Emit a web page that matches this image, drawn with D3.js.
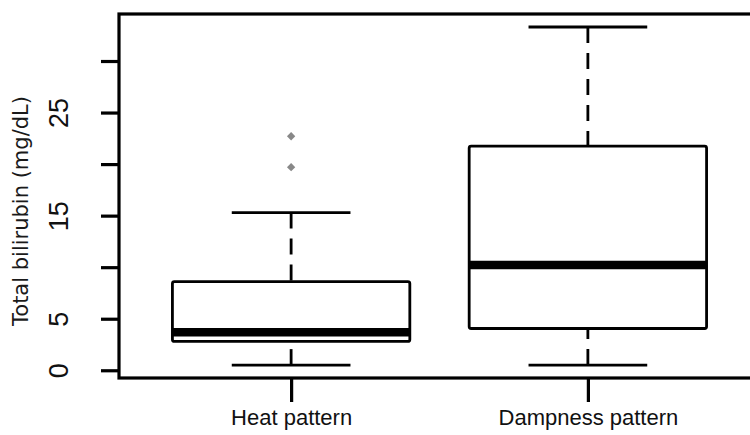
<!DOCTYPE html>
<html>
<head>
<meta charset="utf-8">
<script src="https://cdn.jsdelivr.net/npm/d3@7"></script>
<style>
  body { margin: 0; background: #fff; }
  svg { display: block; }
</style>
</head>
<body>
<div id="chart"></div>
<script>
var margin = {top: 14, right: -10, bottom: 57, left: 119},
    width = 750 - margin.left - margin.right,
    height = 435 - margin.top - margin.bottom;

// box stats (mg/dL)
var categories = ["Heat pattern", "Dampness pattern"];
var whiskerLow = [0.5, 0.5];
var q1 = [2.8, 4.05];
var medians = [3.7, 10.2];
var q3 = [8.6, 21.75];
var whiskerHigh = [15.3, 33.3];
var outliers = [[22.7, 19.7], []];
var yTicks = [0, 5, 10, 15, 20, 25, 30];
var yTickLabels = ["0", "5", "", "15", "", "25", ""];

var boxes = categories.map(function (c, i) {
    return {pos: i + 1, name: c, lo: whiskerLow[i], q1: q1[i], med: medians[i],
            q3: q3[i], hi: whiskerHigh[i], out: outliers[i]};
});

var svg = d3.select("#chart").append("svg")
    .attr("width", 750)
    .attr("height", 435)
    .style("font-family", "'DejaVu Sans', sans-serif")
    .append("g")
    .attr("transform", "translate(" + margin.left + "," + margin.top + ")");

// R style ranges: 0.5..2.5 padded by 4%
var x = d3.scaleLinear()
    .domain([0.42, 2.58])
    .range([0, width]);

var y = d3.scaleLinear()
    .domain([-0.75, 34.56])
    .range([height, 0]);

// Y axis, labels turned like R's las=0
var yAxis = svg.append("g")
    .call(d3.axisLeft(y)
        .tickValues(yTicks)
        .tickSize(18)
        .tickFormat(function (d, i) { return yTickLabels[i]; }));
yAxis.select(".domain").remove();
yAxis.selectAll("line").attr("stroke", "#000").attr("stroke-width", 3.2);
yAxis.selectAll("text")
    .attr("x", 0)
    .attr("y", -60)
    .attr("dy", null)
    .attr("transform", "rotate(-90)")
    .style("text-anchor", "middle")
    .style("dominant-baseline", "central")
    .style("font-size", "27px")
    .attr("fill", "#111");

// y axis title
svg.append("text")
    .attr("transform", "rotate(-90)")
    .attr("y", 21 - margin.left)
    .attr("x", -(211 - margin.top))
    .style("text-anchor", "middle")
    .style("dominant-baseline", "central")
    .style("font-size", "21px")
    .attr("fill", "#1a1a1a")
    .text("Total bilirubin (mg/dL)");

// X axis
var xAxis = svg.append("g")
    .attr("transform", "translate(0," + height + ")")
    .call(d3.axisBottom(x)
        .tickValues(boxes.map(function (d) { return d.pos; }))
        .tickSize(24)
        .tickFormat(function (d) { return categories[d - 1]; }));
xAxis.select(".domain").remove();
xAxis.selectAll("line").attr("stroke", "#000").attr("stroke-width", 3.2);
xAxis.selectAll("text")
    .attr("y", 31)
    .style("font-size", "22px")
    .attr("fill", "#111");

var g = svg.selectAll(".box")
    .data(boxes)
    .enter().append("g")
    .attr("class", "box");

// dashed whiskers, drawn from the whisker end towards the box
g.append("line")
    .attr("x1", function (d) { return x(d.pos); })
    .attr("x2", function (d) { return x(d.pos); })
    .attr("y1", function (d) { return y(d.hi); })
    .attr("y2", function (d) { return y(d.q3); })
    .attr("stroke", "#000").attr("stroke-width", 2.8)
    .attr("stroke-dasharray", "16,10");
g.append("line")
    .attr("x1", function (d) { return x(d.pos); })
    .attr("x2", function (d) { return x(d.pos); })
    .attr("y1", function (d) { return y(d.lo); })
    .attr("y2", function (d) { return y(d.q1); })
    .attr("stroke", "#000").attr("stroke-width", 2.8)
    .attr("stroke-dasharray", "16,10");

// staples
["hi", "lo"].forEach(function (k) {
    g.append("line")
        .attr("x1", function (d) { return x(d.pos - 0.2); })
        .attr("x2", function (d) { return x(d.pos + 0.2); })
        .attr("y1", function (d) { return y(d[k]); })
        .attr("y2", function (d) { return y(d[k]); })
        .attr("stroke", "#000").attr("stroke-width", 2.8);
});

// boxes
g.append("rect")
    .attr("x", function (d) { return x(d.pos - 0.4); })
    .attr("y", function (d) { return y(d.q3); })
    .attr("width", function (d) { return x(d.pos + 0.4) - x(d.pos - 0.4); })
    .attr("height", function (d) { return y(d.q1) - y(d.q3); })
    .attr("rx", 2)
    .attr("fill", "#fff")
    .attr("stroke", "#000").attr("stroke-width", 2.8);

// medians
g.append("line")
    .attr("x1", function (d) { return x(d.pos - 0.4); })
    .attr("x2", function (d) { return x(d.pos + 0.4); })
    .attr("y1", function (d) { return y(d.med); })
    .attr("y2", function (d) { return y(d.med); })
    .attr("stroke", "#000").attr("stroke-width", 8.5);

// outliers
g.selectAll(".out")
    .data(function (d) { return d.out.map(function (v) { return {pos: d.pos, v: v}; }); })
    .enter().append("path")
    .attr("class", "out")
    .attr("d", d3.symbol(d3.symbolDiamond2, 44))
    .attr("transform", function (d) { return "translate(" + x(d.pos) + "," + y(d.v) + ")"; })
    .attr("fill", "#888");

// plot frame
svg.append("rect")
    .attr("x", 0)
    .attr("y", 0)
    .attr("width", width)
    .attr("height", height)
    .attr("fill", "none")
    .attr("stroke", "#000")
    .attr("stroke-width", 3.2);
</script>
</body>
</html>
